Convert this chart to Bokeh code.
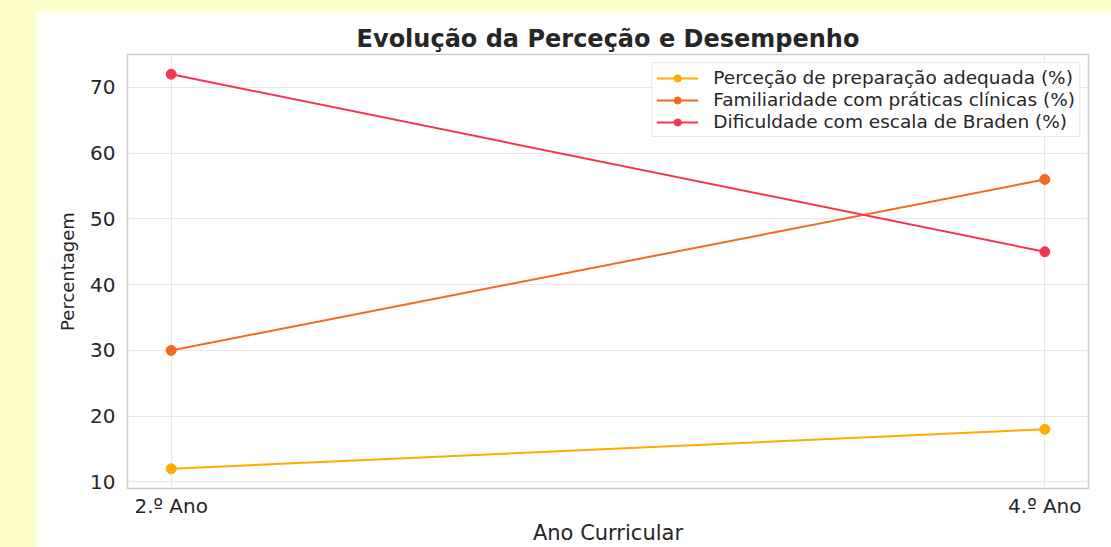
from bokeh.plotting import figure
from bokeh.models import ColumnDataSource, FixedTicker, Range1d, Legend, LegendItem
from bokeh.layouts import column
from bokeh.embed import file_html
from bokeh.resources import INLINE

# ---- data ----
anos = ["2.º Ano", "4.º Ano"]
preparacao = [12, 18]
familiaridade = [30, 56]
dificuldade = [72, 45]
series_names = [
    "Perceção de preparação adequada (%)",
    "Familiaridade com práticas clínicas (%)",
    "Dificuldade com escala de Braden (%)",
]
colors = ["#FFAA00", "#F26A1F", "#F53452"]
y_ticks = [10, 20, 30, 40, 50, 60, 70]

xpos = list(range(len(anos)))
FONT = "DejaVu Sans"
TXT = "#262626"
YEL = "#FFFFCC"

FIG_W, FIG_H = 1075, 535

p = figure(
    width=FIG_W, height=FIG_H, output_backend="svg", toolbar_location=None,
    x_range=Range1d(-0.05, 1.05), y_range=Range1d(9, 75),
    min_border_left=91, min_border_right=23, min_border_top=42, min_border_bottom=59,
)
p.border_fill_color = "white"
p.background_fill_color = "white"

p.title.text = "Evolução da Perceção e Desempenho"
p.title.text_font = FONT
p.title.text_font_size = "24px"
p.title.text_font_style = "bold"
p.title.text_color = TXT
p.title.align = "center"
p.title.standoff = 4

p.outline_line_color = "#CCCCCC"
p.outline_line_width = 1.5

p.xaxis.ticker = FixedTicker(ticks=xpos)
p.xaxis.major_label_overrides = {i: a for i, a in enumerate(anos)}
p.yaxis.ticker = FixedTicker(ticks=y_ticks)

for ax in (p.xaxis, p.yaxis):
    ax.axis_line_color = None
    ax.major_tick_line_color = None
    ax.minor_tick_line_color = None
    ax.major_tick_out = 0
    ax.major_tick_in = 0
    ax.minor_tick_out = 0
    ax.major_label_text_font = FONT
    ax.major_label_text_font_size = "20px"
    ax.major_label_text_color = TXT
    ax.axis_label_text_font = FONT
    ax.axis_label_text_font_style = "normal"
    ax.axis_label_text_color = TXT

p.xaxis.axis_label = "Ano Curricular"
p.xaxis.axis_label_text_font_size = "21px"
p.xaxis.major_label_standoff = 5
p.xaxis.axis_label_standoff = 0
p.yaxis.axis_label = "Percentagem"
p.yaxis.axis_label_text_font_size = "18px"
p.yaxis.major_label_standoff = 12
p.yaxis.axis_label_standoff = 9

p.grid.grid_line_color = "#E6E6E6"
p.grid.grid_line_width = 1

items = []
for name, vals, c in zip(series_names, [preparacao, familiaridade, dificuldade], colors):
    src = ColumnDataSource(dict(x=xpos, y=vals))
    l = p.line("x", "y", source=src, line_color=c, line_width=2)
    s = p.scatter("x", "y", source=src, size=10, fill_color=c, line_color=c)
    items.append(LegendItem(label=name, renderers=[l, s]))

legend = Legend(items=items, location="top_right")
legend.label_text_font = FONT
legend.label_text_font_size = "18.5px"
legend.label_text_color = TXT
legend.glyph_width = 42
legend.glyph_height = 18
legend.label_height = 18
legend.label_standoff = 15
legend.spacing = 1
legend.padding = 4
legend.margin = 8
legend.border_line_color = "#D6D6D6"
legend.border_line_width = 1
legend.background_fill_color = "white"
legend.background_fill_alpha = 0.8
p.add_layout(legend)

layout = column(p, styles={
    "background-color": YEL,
    "margin": "-8px 0 0 -8px",
    "padding": "20px 0 0 44px",
})

open("out.html", "w").write(file_html(layout, INLINE))
